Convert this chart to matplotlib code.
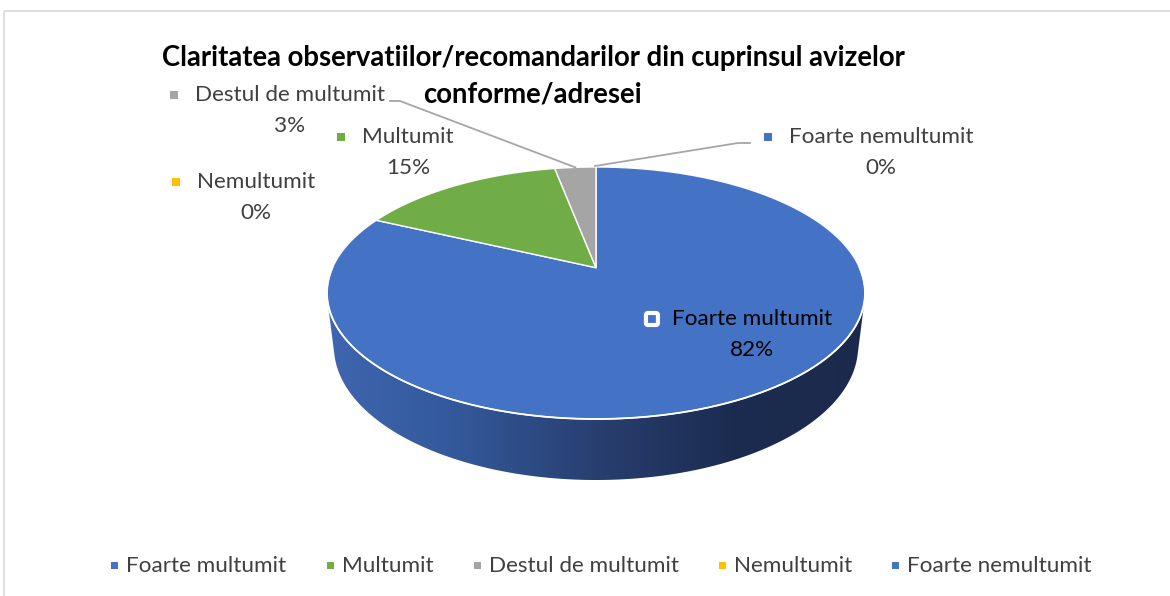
import numpy as np
import matplotlib
matplotlib.use("Agg")
import matplotlib.pyplot as plt
from matplotlib import font_manager
from matplotlib.patches import Polygon, Rectangle, FancyBboxPatch
from matplotlib.colors import LinearSegmentedColormap

# ---- data ----
categories = ["Foarte multumit", "Multumit", "Destul de multumit", "Nemultumit", "Foarte nemultumit"]
shares = [82, 15, 3, 0, 0]
colors = ["#4472C4", "#70AD47", "#A5A5A5", "#FFC000", "#4472C4"]
title_lines = ["Claritatea observatiilor/recomandarilor din cuprinsul avizelor", "conforme/adresei"]

available = {f.name for f in font_manager.fontManager.ttflist}
primary = next((n for n in ["Lato", "Open Sans", "Noto Sans"] if n in available), "DejaVu Sans")
FONT = [primary, "DejaVu Sans"]
plt.rcParams["font.family"] = FONT

W, H = 1170, 596
fig = plt.figure(figsize=(W / 100, H / 100), dpi=100)
ax = fig.add_axes([0, 0, 1, 1])
ax.set_xlim(0, W)
ax.set_ylim(H, 0)
ax.axis("off")

# chart-area frame
ax.add_patch(Rectangle((4, 11), 1180, 700, fill=False, ec="#D9D9D9", lw=1.2))

# ---- 3D pie projection ----
PHI = np.radians(28)
DIST = 4.4


def proj(theta_deg, h):
    th = np.radians(theta_deg)
    X = np.cos(th)
    Z = np.sin(th)
    d = DIST + Z * np.cos(PHI) - h * np.sin(PHI)
    return X / d, (Z * np.sin(PHI) + h * np.cos(PHI)) / d


ring = np.linspace(0, 360, 721)
rx, ry = proj(ring, 0.0)
XMIN, XMAX, YMIN, YMAX = rx.min(), rx.max(), ry.min(), ry.max()
LEFT, RIGHT, TOP, BOTTOM = 327, 865, 167, 419


def to_px(xs, ys):
    px = LEFT + (xs - XMIN) / (XMAX - XMIN) * (RIGHT - LEFT)
    py = TOP + (YMAX - ys) / (YMAX - YMIN) * (BOTTOM - TOP)
    return px, py


def pt(theta_deg, h=0.0):
    return to_px(*proj(theta_deg, h))


# thickness so that the front bottom sits at y=480
lo, hi = 0.0, 1.0
for _ in range(60):
    mid = (lo + hi) / 2
    if pt(270, -mid)[1] < 480:
        lo = mid
    else:
        hi = mid
THICK = (lo + hi) / 2

# side body: convex hull of the top and bottom rims
tx, ty = pt(ring, 0.0)
bx, by = pt(ring, -THICK)
pts = np.unique(np.round(np.column_stack([np.r_[tx, bx], np.r_[ty, by]]), 4), axis=0)


def cross(o, a, b):
    return (a[0] - o[0]) * (b[1] - o[1]) - (a[1] - o[1]) * (b[0] - o[0])


pts = sorted(map(tuple, pts))
lower, upper = [], []
for p in pts:
    while len(lower) >= 2 and cross(lower[-2], lower[-1], p) <= 0:
        lower.pop()
    lower.append(p)
for p in reversed(pts):
    while len(upper) >= 2 and cross(upper[-2], upper[-1], p) <= 0:
        upper.pop()
    upper.append(p)
hull = np.array(lower[:-1] + upper[:-1])

side_patch = Polygon(hull, closed=True, fc="none", ec="none")
ax.add_patch(side_patch)
side_cmap = LinearSegmentedColormap.from_list(
    "side", ["#3F66B0", "#33589A", "#283F70", "#1C2C50", "#1B2A4C"])
grad = np.linspace(0, 1, 512)[None, :]
im = ax.imshow(grad, extent=[LEFT - 5, RIGHT + 5, 490, 150], cmap=side_cmap,
               aspect="auto", interpolation="bilinear", zorder=1)
im.set_clip_path(side_patch)

# top face slices (clockwise from 12 o'clock)
total = float(sum(shares))
apex = to_px(0.0, 0.0)
start = 90.0
slice_angles = []
for val, col in zip(shares, colors):
    sweep = 360.0 * val / total
    end = start - sweep
    slice_angles.append((start, end))
    if sweep > 0:
        th = np.linspace(start, end, max(int(sweep * 2), 2))
        sx, sy = pt(th, 0.0)
        poly = np.column_stack([np.r_[apex[0], sx], np.r_[apex[1], sy]])
        ax.add_patch(Polygon(poly, closed=True, fc=col, ec="white", lw=1.0,
                             joinstyle="round", zorder=2))
    start = end

# white rim along the front edge
fx, fy = pt(np.linspace(180, 360, 200), 0.0)
ax.plot(fx, fy, color="white", lw=1.3, zorder=3)

# ---- title ----
TITLE_FS = 19.8
ax.text(533, 58, title_lines[0], ha="center", va="center", fontsize=TITLE_FS,
        fontweight="bold", color="black", zorder=5)
ax.text(533, 95, title_lines[1], ha="center", va="center", fontsize=TITLE_FS,
        fontweight="bold", color="black", zorder=5)

# ---- data labels ----
LBL_FS = 16.2
label_pos = {
    0: (752, 319),
    1: (408, 137),
    2: (290, 95),
    3: (256, 182),
    4: (881, 137),
}
fig.canvas.draw()
renderer = fig.canvas.get_renderer()
inv = ax.transData.inverted()
for i, cat in enumerate(categories):
    cx, cy = label_pos[i]
    tc = "#000000" if i == 0 else "#404040"
    t = ax.text(cx, cy, cat, ha="center", va="center", fontsize=LBL_FS, color=tc, zorder=5)
    ax.text(cx, cy + 31, f"{shares[i]}%", ha="center", va="center",
            fontsize=LBL_FS, color=tc, zorder=5)
    bb = t.get_window_extent(renderer=renderer)
    x0 = inv.transform((bb.x0, bb.y0))[0]
    if i == 0:
        ax.add_patch(FancyBboxPatch((x0 - 26, cy - 6), 12, 12,
                                    boxstyle="round,pad=0,rounding_size=2",
                                    fc=colors[i], ec="white", lw=3, zorder=5))
    else:
        ax.add_patch(Rectangle((x0 - 25, cy - 4), 8, 8, fc=colors[i], ec="none", zorder=5))

# leader lines
a2 = pt(sum(slice_angles[2]) / 2, 0.0)
ax.plot([390, 400, a2[0]], [101, 101, a2[1]], color="#A6A6A6", lw=1.3, zorder=4)
a4 = pt(slice_angles[4][0], 0.0)
ax.plot([a4[0] - 1, 738, 750], [a4[1] - 1, 143, 143], color="#A6A6A6", lw=1.3, zorder=4)

# ---- legend ----
legend_x = [126, 342, 489, 734, 907]
for cat, col, lx in zip(categories, colors, legend_x):
    ax.add_patch(Rectangle((lx - 15, 562), 7, 7, fc=col, ec="none", zorder=5))
    ax.text(lx, 566, cat, ha="left", va="center", fontsize=LBL_FS,
            color="#404040", zorder=5)

fig.savefig("out.png", dpi=100, facecolor="white")
